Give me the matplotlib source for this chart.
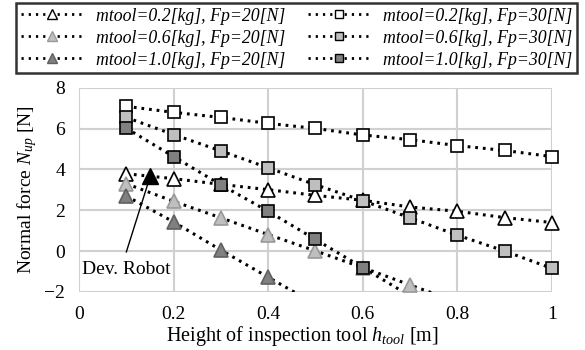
import matplotlib
matplotlib.use("Agg")
import matplotlib.pyplot as plt
from matplotlib.lines import Line2D

plt.rcParams['font.family'] = ['Liberation Serif', 'DejaVu Serif']
plt.rcParams['mathtext.fontset'] = 'custom'
plt.rcParams['mathtext.it'] = 'Liberation Serif:italic'
plt.rcParams['mathtext.rm'] = 'Liberation Serif'

# Data
h = [0.1, 0.2, 0.3, 0.4, 0.5, 0.6, 0.7, 0.8, 0.9, 1.0]
m02_f20 = [3.79, 3.55, 3.27, 3.01, 2.73, 2.49, 2.16, 1.95, 1.64, 1.40]
m06_f20 = [3.30, 2.44, 1.63, 0.81, 0.01, -0.81, -1.66, -2.50]
m10_f20 = [2.70, 1.43, 0.05, -1.28, -2.60]
m02_f30 = [7.09, 6.80, 6.55, 6.26, 6.01, 5.69, 5.46, 5.17, 4.93, 4.63]
m06_f30 = [6.55, 5.71, 4.91, 4.08, 3.25, 2.47, 1.63, 0.78, 0.00, -0.85]
m10_f30 = [6.02, 4.63, 3.25, 1.95, 0.57, -0.81, -2.20]
labels = ["mtool=0.2[kg], Fp=20[N]", "mtool=0.6[kg], Fp=20[N]", "mtool=1.0[kg], Fp=20[N]",
          "mtool=0.2[kg], Fp=30[N]", "mtool=0.6[kg], Fp=30[N]", "mtool=1.0[kg], Fp=30[N]"]
dev_robot = (0.15, 3.7)

YMIN, YMAX = -2, 8

fig = plt.figure(figsize=(5.85, 3.5), dpi=100)
ax = fig.add_axes([0.135, 0.166, 0.8086, 0.583])

ls = (0, (0.9, 1.6))
lw = 2.2
styles = [
    (m02_f20, '^', 'white', 'black', 10),
    (m06_f20, '^', '#bfbfbf', '#999999', 10),
    (m10_f20, '^', '#808080', '#606060', 10),
    (m02_f30, 's', 'white', 'black', 8),
    (m06_f30, 's', '#bfbfbf', 'black', 8),
    (m10_f30, 's', '#808080', 'black', 8),
]
handles = []
for (ys, mk, fc, ec, ms), lab in zip(styles, labels):
    xs = h[:len(ys)]
    ax.plot(xs, ys, linestyle=ls, color='black', lw=lw, zorder=3)
    px = [x for x, y in zip(xs, ys) if YMIN <= y <= YMAX]
    py = [y for y in ys if YMIN <= y <= YMAX]
    ax.plot(px, py, linestyle='none', marker=mk, mfc=fc, mec=ec, ms=ms,
            mew=1.2, zorder=4, clip_on=False)
    handles.append(Line2D([0], [0], linestyle=(0, (0.8, 1.8)), color='black', lw=2.0,
                          marker=mk, mfc=fc, mec=ec, ms=ms * 0.75, mew=1.0))

ax.plot([dev_robot[0]], [dev_robot[1]], marker='^', color='black', ms=11, zorder=5)
ax.annotate("", xy=(dev_robot[0] - 0.003, dev_robot[1] - 0.3), xytext=(0.1, -0.05),
            arrowprops=dict(arrowstyle='-', color='black', lw=1, shrinkA=0, shrinkB=0),
            zorder=6)
ax.text(0.1, -0.5, "Dev. Robot", ha='center', va='top', fontsize=14, zorder=6)

ax.set_xlim(0, 1)
ax.set_ylim(YMIN, YMAX)
ax.set_xticks([0, 0.2, 0.4, 0.6, 0.8, 1.0])
ax.set_xticklabels(['0', '0.2', '0.4', '0.6', '0.8', '1'])
ax.set_yticks([-2, 0, 2, 4, 6, 8])
ax.grid(True, color='#d0d0d0', lw=1.5)
ax.set_axisbelow(True)
for s in ax.spines.values():
    s.set_visible(False)
ax.tick_params(length=0, labelsize=14)
ax.tick_params(axis='x', pad=10)
ax.tick_params(axis='y', pad=10)
ax.set_xlabel(r"Height of inspection tool $h_{tool}$ [m]", fontsize=14.5, labelpad=-1)
ax.xaxis.set_label_coords(0.4725, -0.155)
ax.xaxis.label.set_va('top')
ax.set_ylabel(r"Normal force $N_{up}$ [N]", fontsize=14, labelpad=4)

leg = fig.legend(handles=handles, labels=labels, ncol=2, loc='upper center',
                 bbox_to_anchor=(0.507, 0.991), frameon=True, fancybox=False,
                 edgecolor='black', handlelength=3.5, columnspacing=1.3,
                 handletextpad=0.73, labelspacing=0.28, borderpad=0.25,
                 borderaxespad=0.0,
                 prop={'style': 'italic', 'size': 12.8})
leg.get_frame().set_linewidth(1.8)

fig.savefig("out.png", dpi=100)
